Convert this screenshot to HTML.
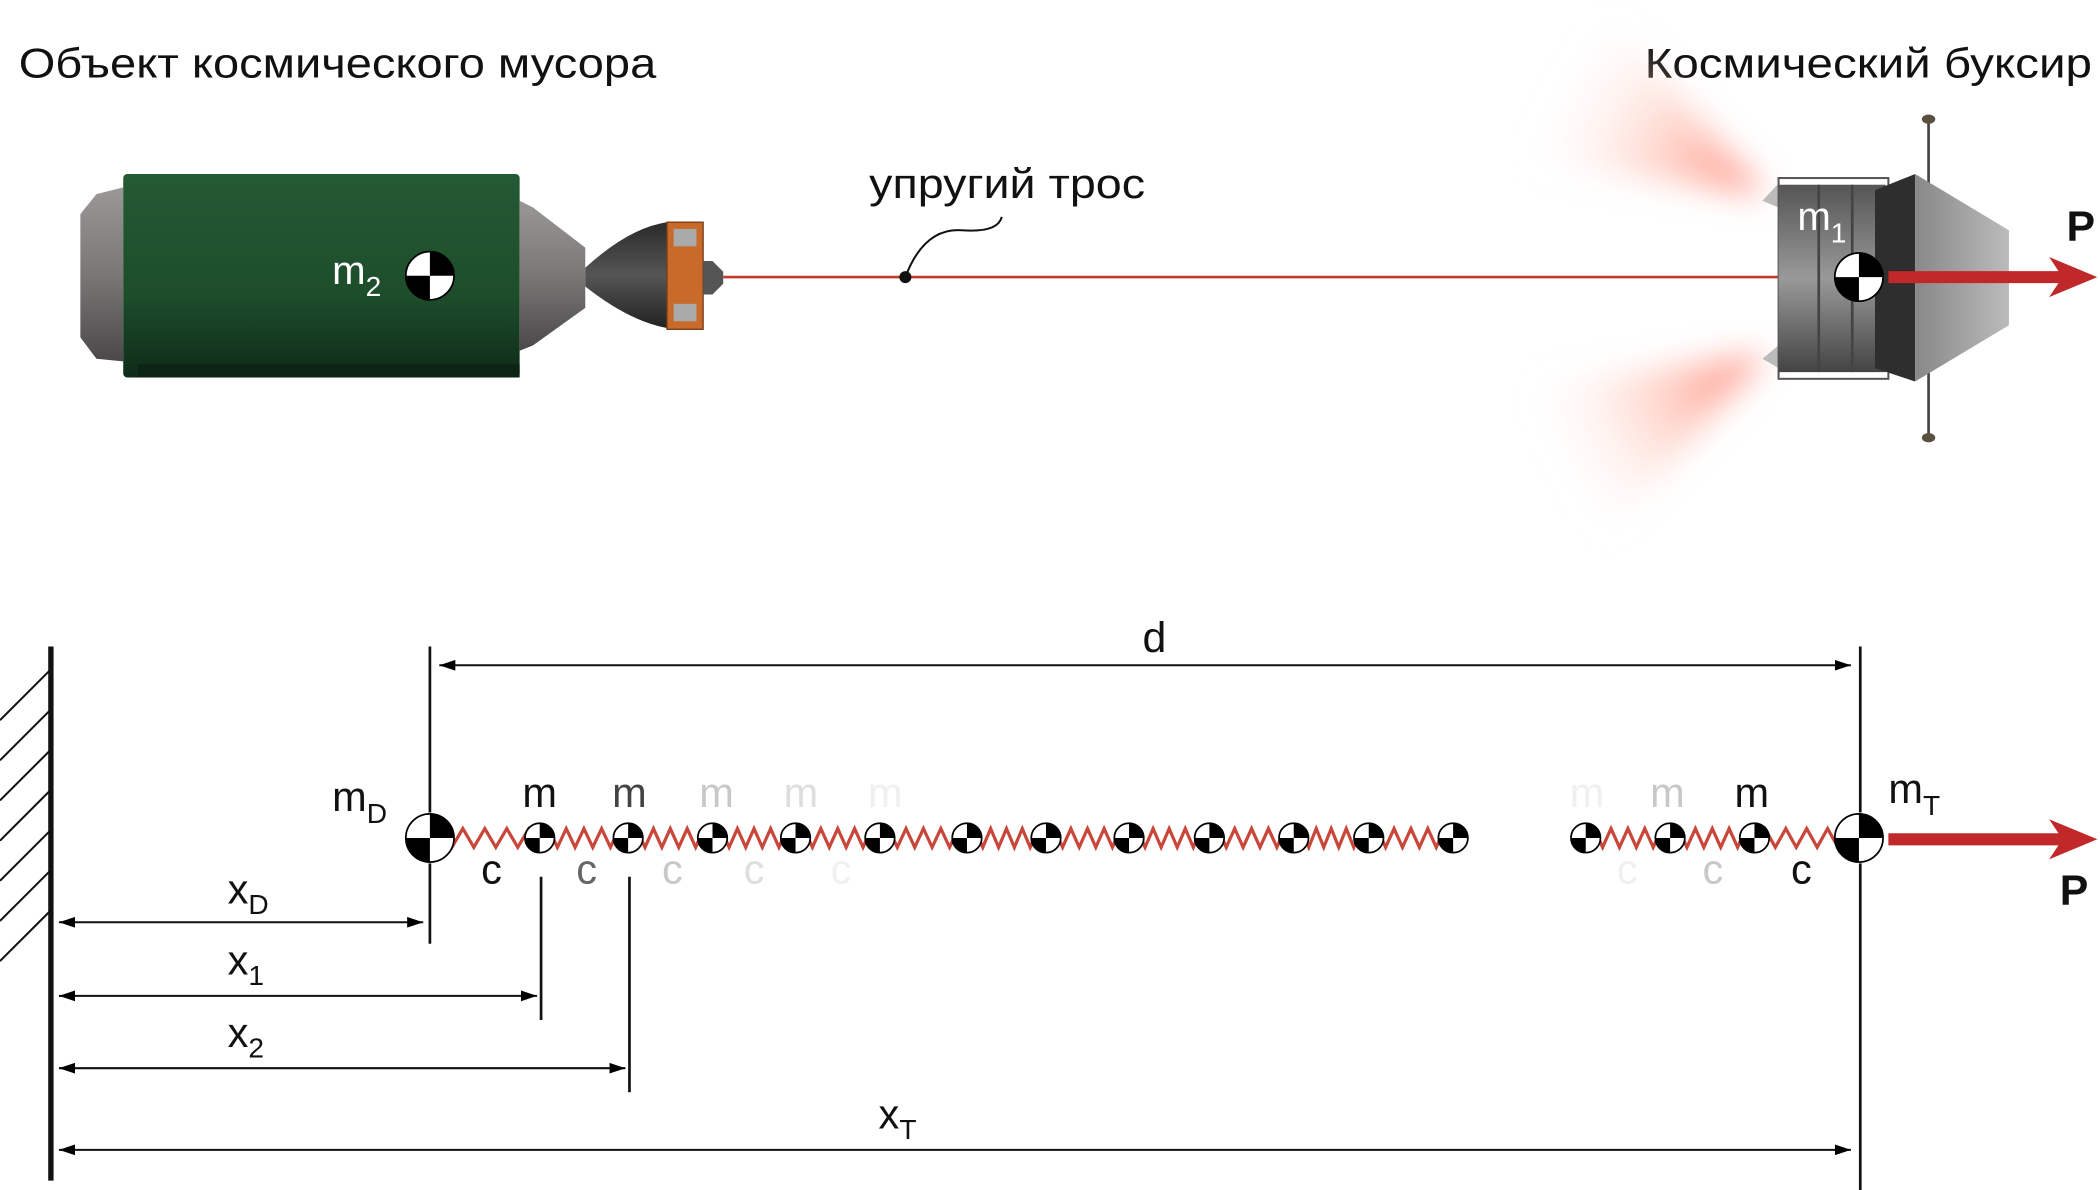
<!DOCTYPE html>
<html><head><meta charset="utf-8"><style>
html,body{margin:0;padding:0;background:#fff;}
svg{display:block;}
text{font-family:"Liberation Sans",sans-serif;}
</style></head><body>
<svg id="s" width="2100" height="1190" viewBox="0 0 1568 889" preserveAspectRatio="none" xmlns="http://www.w3.org/2000/svg">
<defs>
<linearGradient id="grn" x1="0" y1="0" x2="0" y2="1"><stop offset="0" stop-color="#245a34"/><stop offset="0.6" stop-color="#1d4d2b"/><stop offset="1" stop-color="#0f2b18"/></linearGradient>
<linearGradient id="gry" x1="0" y1="0" x2="0" y2="1"><stop offset="0" stop-color="#9a9797"/><stop offset="0.5" stop-color="#7a7777"/><stop offset="1" stop-color="#4a4848"/></linearGradient>
<linearGradient id="dk" x1="0" y1="0" x2="0" y2="1"><stop offset="0" stop-color="#2a2a2a"/><stop offset="0.5" stop-color="#555"/><stop offset="1" stop-color="#222"/></linearGradient>
<linearGradient id="tg" x1="0" y1="0" x2="0" y2="1"><stop offset="0" stop-color="#555"/><stop offset="0.5" stop-color="#999"/><stop offset="1" stop-color="#444"/></linearGradient>
<linearGradient id="tg2" x1="0" y1="0" x2="1" y2="0"><stop offset="0" stop-color="#888"/><stop offset="1" stop-color="#bbb"/></linearGradient>
<radialGradient id="pl1" cx="1320" cy="145" r="190" gradientUnits="userSpaceOnUse"><stop offset="0" stop-color="#f76" stop-opacity="0.95"/><stop offset="0.5" stop-color="#fba" stop-opacity="0.5"/><stop offset="1" stop-color="#fff" stop-opacity="0"/></radialGradient>
<radialGradient id="pl2" cx="1320" cy="268" r="190" gradientUnits="userSpaceOnUse"><stop offset="0" stop-color="#f76" stop-opacity="0.95"/><stop offset="0.5" stop-color="#fba" stop-opacity="0.5"/><stop offset="1" stop-color="#fff" stop-opacity="0"/></radialGradient>
<filter id="bl" x="-50%" y="-50%" width="200%" height="200%"><feGaussianBlur stdDeviation="12"/></filter>
<marker id="ar" markerWidth="12" markerHeight="8" refX="12" refY="4" orient="auto" markerUnits="userSpaceOnUse"><path d="M0,0 L12,4 L0,8 Z" fill="#000"/></marker>
<marker id="al" markerWidth="12" markerHeight="8" refX="0" refY="4" orient="auto" markerUnits="userSpaceOnUse"><path d="M12,0 L0,4 L12,8 Z" fill="#000"/></marker>
</defs>

<!-- titles -->
<text x="14" y="58" font-size="31" fill="#111" textLength="476" lengthAdjust="spacingAndGlyphs">Объект космического мусора</text>
<text x="1228" y="58" font-size="31" fill="#111" textLength="334" lengthAdjust="spacingAndGlyphs">Космический буксир</text>
<text x="649" y="148" font-size="31" fill="#111" textLength="206" lengthAdjust="spacingAndGlyphs">упругий трос</text>

<!-- debris -->
<polygon points="60,160 72,145 92,140 92,270 72,268 60,252" fill="url(#gry)"/>
<rect x="92" y="130" width="296" height="152" rx="3" fill="url(#grn)"/>
<rect x="103" y="272" width="285" height="10" fill="#0c2414"/>
<polygon points="388,150 398,155 437,185 437,230 398,258 388,262" fill="url(#gry)"/>
<path d="M437,200 Q470,170 498,166 L498,245 Q470,240 437,214 Z" fill="url(#dk)"/>
<rect x="498" y="166" width="27" height="80" fill="#c86a2a" stroke="#7a3a18" stroke-width="1"/>
<rect x="503" y="171" width="17" height="13" fill="#aaa"/>
<rect x="503" y="227" width="17" height="13" fill="#aaa"/>
<polygon points="525,195 532,195 540,203 540,212 532,220 525,220" fill="#555"/>
<text x="248" y="212" font-size="30" fill="#fff">m<tspan font-size="21" dy="9">2</tspan></text>

<!-- plumes -->
<g filter="url(#bl)">
<polygon points="1318,145 1200,10 1140,120" fill="url(#pl1)"/>
<polygon points="1318,265 1200,400 1140,290" fill="url(#pl2)"/>
</g>

<!-- tether -->
<line x1="540" y1="207" x2="1330" y2="207" stroke="#c0392b" stroke-width="2"/>
<path d="M676,207 Q690,170 718,172 Q745,174 748,162" fill="none" stroke="#111" stroke-width="1.5"/>
<circle cx="676" cy="207" r="4.5" fill="#111"/>

<!-- tug -->
<line x1="1440" y1="90" x2="1440" y2="326" stroke="#444" stroke-width="2"/>
<ellipse cx="1440" cy="89" rx="5" ry="3.5" fill="#5a5040"/>
<ellipse cx="1440" cy="327" rx="5" ry="3.5" fill="#5a5040"/>
<polygon points="1316,150 1328,137 1328,155" fill="#bbb"/>
<polygon points="1316,268 1328,258 1328,275" fill="#bbb"/>
<rect x="1328" y="133" width="82" height="150" fill="none" stroke="#555" stroke-width="1.5"/>
<rect x="1328" y="138" width="80" height="140" fill="url(#tg)"/>
<line x1="1358" y1="138" x2="1358" y2="278" stroke="#444" stroke-width="2"/>
<line x1="1383" y1="138" x2="1383" y2="278" stroke="#444" stroke-width="2"/>
<polygon points="1400,142 1430,130 1430,285 1400,275" fill="#2e2e2e"/>
<polygon points="1430,130 1500,172 1500,243 1430,285" fill="url(#tg2)"/>
<text x="1342" y="172" font-size="30" fill="#fff">m<tspan font-size="21" dy="9">1</tspan></text>
<line x1="1410" y1="207" x2="1540" y2="207" stroke="#c0282a" stroke-width="9"/>
<polygon points="1530,192 1566,207 1530,222 1540,207" fill="#c0282a"/>
<text x="1543" y="180" font-size="32" font-weight="bold" fill="#111">P</text>

<!-- lower diagram -->
<line x1="38" y1="483" x2="38" y2="882" stroke="#111" stroke-width="4"/>
<g id="hatch" stroke="#111" stroke-width="1.5"></g>

<line x1="328" y1="497" x2="1382" y2="497" stroke="#111" stroke-width="1.5" marker-start="url(#al)" marker-end="url(#ar)"/>
<text x="862" y="487" font-size="32" text-anchor="middle" fill="#111">d</text>
<line x1="321" y1="483" x2="321" y2="607" stroke="#111" stroke-width="2"/>
<line x1="321" y1="645" x2="321" y2="705" stroke="#111" stroke-width="2"/>
<line x1="404" y1="655" x2="404" y2="762" stroke="#111" stroke-width="2"/>
<line x1="470" y1="655" x2="470" y2="816" stroke="#111" stroke-width="2"/>
<line x1="1389" y1="483" x2="1389" y2="607" stroke="#111" stroke-width="2"/>
<line x1="1389" y1="645" x2="1389" y2="889" stroke="#111" stroke-width="2"/>

<g stroke="#111" stroke-width="1.5">
<line x1="44" y1="689" x2="316" y2="689" marker-start="url(#al)" marker-end="url(#ar)"/>
<line x1="44" y1="744" x2="401" y2="744" marker-start="url(#al)" marker-end="url(#ar)"/>
<line x1="44" y1="798" x2="467" y2="798" marker-start="url(#al)" marker-end="url(#ar)"/>
<line x1="44" y1="859" x2="1382" y2="859" marker-start="url(#al)" marker-end="url(#ar)"/>
</g>
<text x="170" y="675" font-size="31" fill="#111">x<tspan font-size="21" dy="8">D</tspan></text>
<text x="170" y="728" font-size="31" fill="#111">x<tspan font-size="21" dy="8">1</tspan></text>
<text x="170" y="782" font-size="31" fill="#111">x<tspan font-size="21" dy="8">2</tspan></text>
<text x="656" y="843" font-size="31" fill="#111">x<tspan font-size="21" dy="8">T</tspan></text>

<g id="springs" fill="none" stroke="#c9473a" stroke-width="2.4"></g>
<g id="masses"></g>
<g font-size="31" text-anchor="middle">
<text x="403" y="603" fill="#111">m</text>
<text x="470" y="603" fill="#444">m</text>
<text x="535" y="603" fill="#c8c8c8">m</text>
<text x="598" y="603" fill="#dedede">m</text>
<text x="661" y="603" fill="#f0f0f0">m</text>
<text x="1185" y="603" fill="#f0f0f0">m</text>
<text x="1245" y="603" fill="#c8c8c8">m</text>
<text x="1308" y="603" fill="#111">m</text>
<text x="367" y="660" fill="#111">c</text>
<text x="438" y="660" fill="#666">c</text>
<text x="502" y="660" fill="#c8c8c8">c</text>
<text x="563" y="660" fill="#dedede">c</text>
<text x="628" y="660" fill="#f0f0f0">c</text>
<text x="1215" y="660" fill="#f0f0f0">c</text>
<text x="1279" y="660" fill="#c8c8c8">c</text>
<text x="1345" y="660" fill="#111">c</text>
</g>
<text x="248" y="606" font-size="31" fill="#111">m<tspan font-size="21" dy="9">D</tspan></text>
<text x="1410" y="600" font-size="31" fill="#111">m<tspan font-size="21" dy="9">T</tspan></text>
<line x1="1410" y1="627" x2="1540" y2="627" stroke="#c0282a" stroke-width="9"/>
<polygon points="1530,612 1566,627 1530,642 1540,627" fill="#c0282a"/>
<text x="1538" y="676" font-size="32" font-weight="bold" fill="#111">P</text>
</svg>
<script>
function com(g,cx,cy,r){
 var h='<circle cx="'+cx+'" cy="'+cy+'" r="'+r+'" fill="#fff" stroke="#000" stroke-width="1.3"/>'+
 '<path d="M'+cx+','+cy+' L'+cx+','+(cy-r)+' A'+r+','+r+' 0 0 1 '+(cx+r)+','+cy+' Z" fill="#000"/>'+
 '<path d="M'+cx+','+cy+' L'+cx+','+(cy+r)+' A'+r+','+r+' 0 0 1 '+(cx-r)+','+cy+' Z" fill="#000"/>';
 g.insertAdjacentHTML('beforeend',h);
}
var m=document.getElementById('masses');
com(m,321,206,18); com(m,1388,207,18);
var xs=[321,403,469,532,594,657,722,781,843,903,966,1022,1085];
var xs2=[1184,1247,1310,1388];
var sp=document.getElementById('springs'),d='';
function spring(a,b){var n=10,st=(b-a)/n,p='M'+a+',626';for(var i=1;i<n;i++){p+=' L'+(a+st*i)+','+(626+(i%2?-7:7));}p+=' L'+b+',626 ';return p;}
for(var i=0;i<xs.length-1;i++)d+=spring(xs[i],xs[i+1]);
for(var i=0;i<xs2.length-1;i++)d+=spring(xs2[i],xs2[i+1]);
sp.insertAdjacentHTML('beforeend','<path d="'+d+'"/>');
com(m,321,626,18); com(m,1388,626,18);
xs.slice(1).forEach(function(x){com(m,x,626,11);});
xs2.slice(0,3).forEach(function(x){com(m,x,626,11);});
var h=document.getElementById('hatch'),s='';
for(var y=500;y<=690;y+=30)s+='<line x1="38" y1="'+y+'" x2="0" y2="'+(y+38)+'"/>';
h.insertAdjacentHTML('beforeend',s);
</script>
</body></html>
